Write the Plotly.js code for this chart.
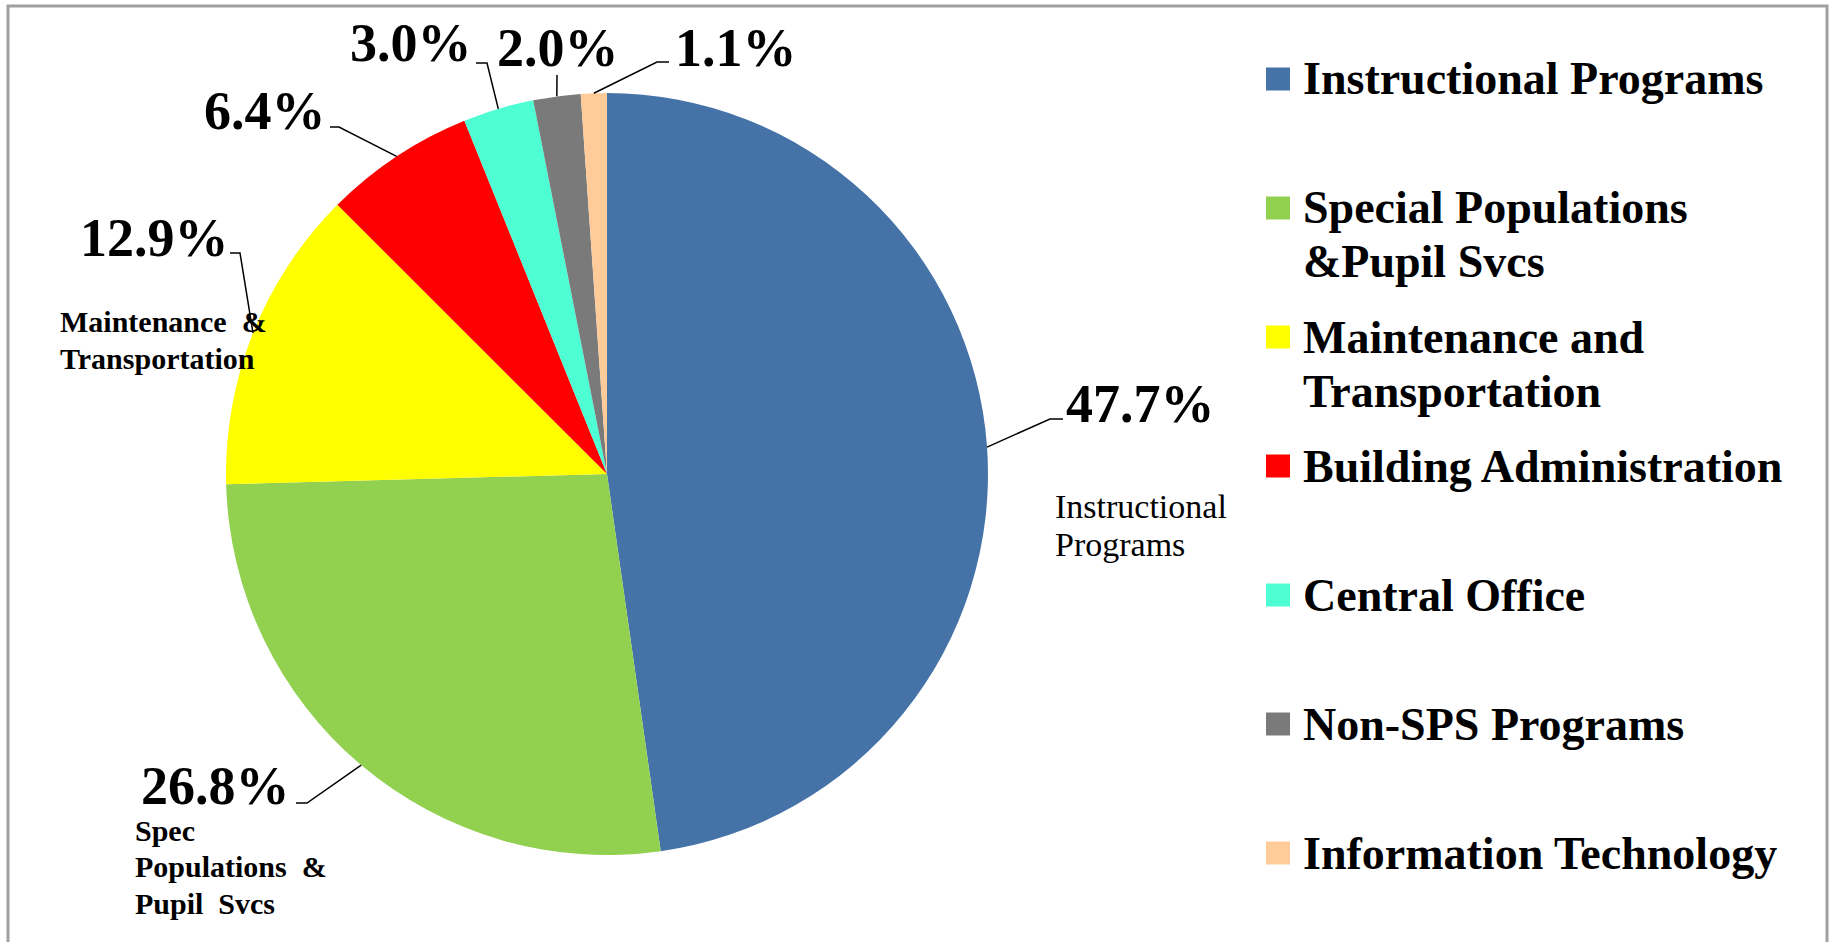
<!DOCTYPE html>
<html>
<head>
<meta charset="utf-8">
<script src="https://cdn.plot.ly/plotly-3.0.1.min.js"></script>
<style>html,body{margin:0;padding:0;background:#fff;}#chart{width:1831px;height:942px;}</style>
</head>
<body>
<div id="chart"></div>
<script>
// ---- data ----
const categories = ["Instructional Programs", "Special Populations &Pupil Svcs", "Maintenance and Transportation",
  "Building Administration", "Central Office", "Non-SPS Programs", "Information Technology"];
const legendLines = [["Instructional Programs"], ["Special Populations", "&Pupil Svcs"], ["Maintenance and", "Transportation"],
  ["Building Administration"], ["Central Office"], ["Non-SPS Programs"], ["Information Technology"]];
const values = [47.7, 26.8, 12.9, 6.4, 3.0, 2.0, 1.1];
const colors = ["#4573A7", "#92D050", "#FFFF00", "#FF0000", "#4DFFD3", "#7A7A7A", "#FFCC99"];

// ---- layout geometry (pixels) ----
const W = 1831, H = 942;
const CX = 607, CY = 474, R = 381;
const px = x => x / W;
const py = y => 1 - y / H;

// label positions (pixels): percent label left/center-y, elbow points
const pctPos = [
  {x: 1064, y: 404, elbow: [[1050, 419], [1063, 419]]},
  {x: 139, y: 786, elbow: [[307, 803], [296, 803]]},
  {x: 78, y: 238, elbow: [[240, 253], [230, 253]]},
  {x: 202, y: 111, elbow: [[339, 127], [330, 127]]},
  {x: 348, y: 43, elbow: [[487, 63], [476, 63]]},
  {x: 495, y: 48, elbow: [[557, 75]]},
  {x: 673, y: 48, elbow: [[657, 62], [669, 62]]}
];
const catLabels = [
  {lines: ["Instructional", "Programs"], x: 1053, y: 506, step: 38, size: 34, bold: false},
  {lines: ["Spec", "Populations\u00a0 &", "Pupil\u00a0 Svcs"], x: 133, y: 830, step: 36.5, size: 30, bold: true},
  {lines: ["Maintenance\u00a0 &", "Transportation"], x: 58, y: 322, step: 36, size: 30, bold: true}
];

const SERIF = "Liberation Serif";

const annotations = [];
const shapes = [];

// percent labels and leader lines computed from the values
const total = values.reduce((a, b) => a + b, 0);
let cum = 0;
values.forEach((v, i) => {
  const mid = (cum + v / 2) / total;
  cum += v;
  const ang = mid * 2 * Math.PI; // clockwise from 12 o'clock
  const ex = CX + R * Math.sin(ang), ey = CY - R * Math.cos(ang);
  const pts = [[ex, ey]].concat(pctPos[i].elbow);
  const path = pts.map((p, k) => (k ? "L" : "M") + px(p[0]).toFixed(5) + "," + py(p[1]).toFixed(5)).join(" ");
  shapes.push({type: "path", xref: "paper", yref: "paper", path: path, line: {color: "#000", width: 1.5}});
  annotations.push({
    xref: "paper", yref: "paper", x: px(pctPos[i].x), y: py(pctPos[i].y),
    xanchor: "left", yanchor: "middle", showarrow: false,
    text: "<b>" + v.toFixed(1) + "%</b>",
    font: {family: SERIF, size: 54, color: "#000"}
  });
});

catLabels.forEach(c => {
  c.lines.forEach((t, k) => {
    annotations.push({
      xref: "paper", yref: "paper", x: px(c.x), y: py(c.y + k * c.step),
      xanchor: "left", yanchor: "middle", showarrow: false,
      text: c.bold ? "<b>" + t + "</b>" : t,
      font: {family: SERIF, size: c.size, color: "#000"}
    });
  });
});

// manual legend
const LEG_X = 1266, LEG_TX = 1301, LEG_Y0 = 79, LEG_STEP = 129, LINE_STEP = 54;
categories.forEach((c, i) => {
  const cy = LEG_Y0 + i * LEG_STEP;
  shapes.push({type: "rect", xref: "paper", yref: "paper",
    x0: px(LEG_X), x1: px(LEG_X + 24), y0: py(cy - 11.5), y1: py(cy + 11.5),
    fillcolor: colors[i], line: {width: 0}});
  legendLines[i].forEach((t, k) => {
    annotations.push({
      xref: "paper", yref: "paper", x: px(LEG_TX), y: py(cy + k * LINE_STEP),
      xanchor: "left", yanchor: "middle", showarrow: false,
      text: "<b>" + t + "</b>",
      font: {family: SERIF, size: 46, color: "#000"}
    });
  });
});

// chart frame
shapes.push({type: "rect", xref: "paper", yref: "paper", x0: px(8), x1: px(1827), y0: py(6), y1: py(960),
  line: {color: "#A0A0A0", width: 3}, fillcolor: "rgba(0,0,0,0)"});

const trace = {
  type: "pie",
  labels: categories,
  values: values,
  marker: {colors: colors, line: {width: 0}},
  sort: false,
  direction: "clockwise",
  rotation: 0,
  textinfo: "none",
  hoverinfo: "label+percent",
  domain: {x: [px(CX - R), px(CX + R)], y: [py(CY + R), py(CY - R)]},
  showlegend: false
};

const layout = {
  width: W, height: H,
  margin: {l: 0, r: 0, t: 0, b: 0},
  paper_bgcolor: "#fff",
  showlegend: false,
  annotations: annotations,
  shapes: shapes
};

Plotly.newPlot("chart", [trace], layout, {displayModeBar: false, staticPlot: true});
</script>
</body>
</html>
